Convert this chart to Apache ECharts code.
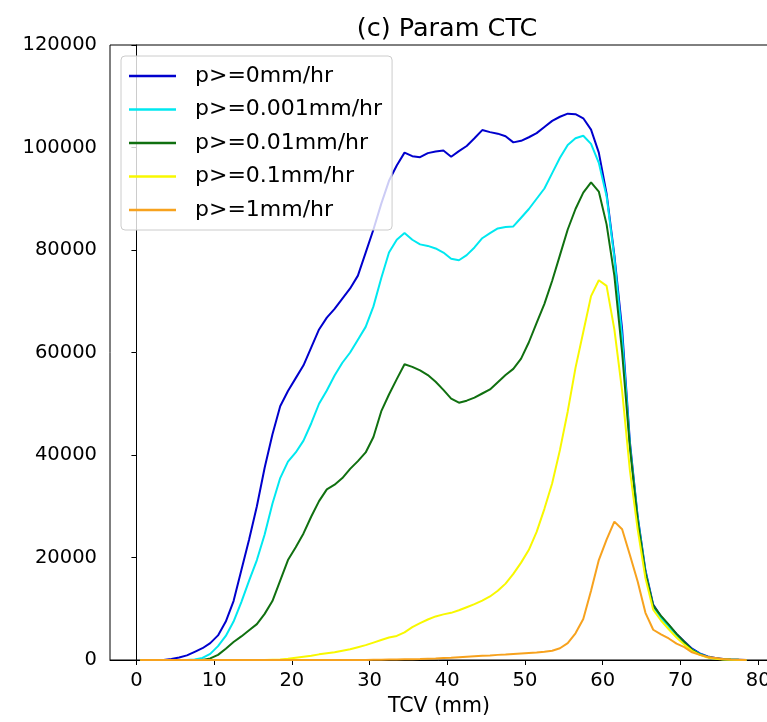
<!DOCTYPE html>
<html>
<head>
<meta charset="utf-8">
<script src="https://cdn.jsdelivr.net/npm/echarts@6/dist/echarts.min.js"></script>
<style>
html,body{margin:0;padding:0;background:#fff;}
#chart{width:767px;height:722px;}
</style>
</head>
<body>
<div id="chart"></div>
<script>
const tcv = [0.5,1.5,2.5,3.5,4.5,5.5,6.5,7.5,8.5,9.5,10.5,11.5,12.5,13.5,14.5,15.5,16.5,17.5,18.5,19.5,
  20.5,21.5,22.5,23.5,24.5,25.5,26.5,27.5,28.5,29.5,30.5,31.5,32.5,33.5,34.5,35.5,36.5,37.5,38.5,39.5,
  40.5,41.5,42.5,43.5,44.5,45.5,46.5,47.5,48.5,49.5,50.5,51.5,52.5,53.5,54.5,55.5,56.5,57.5,58.5,59.5,
  60.5,61.5,62.5,63.5,64.5,65.5,66.5,67.5,68.5,69.5,70.5,71.5,72.5,73.5,74.5,75.5,76.5,77.5,78.5];

const p0 = [0,0,0,0,200,500,900,1600,2300,3300,
  4800,7500,11500,17500,23500,30000,37500,44000,49500,52500,
  55000,57500,61000,64500,66800,68500,70500,72500,75000,79500,
  84000,89000,93500,96500,99000,98300,98100,98900,99200,99400,
  98200,99300,100300,101800,103400,103000,102700,102200,101000,101300,
  102000,102800,104000,105200,106000,106600,106500,105700,103500,99000,
  91000,79000,64500,42500,28000,17500,10800,8500,6800,5100,
  3600,2200,1300,700,400,200,100,50,0];

const p0001 = [0,0,0,0,0,0,0,100,400,1200,
  2700,4700,7500,11300,15500,19500,24500,30500,35500,38700,
  40500,42800,46200,50000,52600,55500,58000,60000,62500,65000,
  69000,74500,79500,82000,83300,82000,81100,80800,80300,79500,
  78300,78000,79000,80500,82300,83300,84200,84500,84600,86300,
  88000,90000,92000,95000,98000,100500,101800,102300,100700,97000,
  90500,78500,63000,42000,27800,17200,10500,8200,6500,4900,
  3400,2000,1200,600,300,150,80,30,0];

const p001 = [0,0,0,0,0,0,0,0,0,300,
  1000,2200,3500,4600,5800,7000,9000,11500,15500,19500,
  22000,24700,28000,31000,33300,34200,35500,37300,38800,40500,
  43500,48500,51800,54800,57700,57200,56500,55600,54300,52700,
  51000,50200,50600,51200,52000,52800,54200,55600,56800,58800,
  62000,65800,69500,74000,79000,84000,88000,91200,93200,91400,
  85000,75000,60000,41500,27300,17000,10600,8600,6900,5100,
  3500,2000,1100,600,300,150,80,30,0];

const p01 = [0,0,0,0,0,0,0,0,0,0,
  0,0,0,0,0,0,0,50,100,250,
  450,650,850,1100,1300,1500,1800,2100,2500,2900,
  3400,3900,4400,4700,5400,6400,7200,7900,8500,8900,
  9200,9700,10300,10900,11600,12400,13500,14900,16800,19000,
  21500,25000,29500,34500,41000,48500,57000,64000,71000,74100,
  73000,64500,52500,37000,25500,16000,9800,7700,6000,4400,
  3000,1800,1000,500,250,120,50,20,0];

const p1 = [0,0,0,0,0,0,0,0,0,0,
  0,0,0,0,0,0,0,0,0,0,
  0,0,0,0,0,0,0,0,0,0,
  50,60,80,100,130,160,200,250,300,380,
  450,550,650,750,850,900,1000,1050,1150,1250,
  1350,1450,1600,1800,2300,3300,5200,8000,13500,19500,
  23500,27000,25500,20500,15300,9200,5900,5000,4200,3200,
  2500,1500,1000,600,400,200,100,50,0];

const xTicks = [0,10,20,30,40,50,60,70,80];
const seriesNames = ['p>=0mm/hr','p>=0.001mm/hr','p>=0.01mm/hr','p>=0.1mm/hr','p>=1mm/hr'];
const seriesValues = [p0, p0001, p001, p01, p1];
const colors = ['#0000cd','#00e8f0','#107010','#f8f800','#f7a21e'];

const font = 'DejaVu Sans';
const chart = echarts.init(document.getElementById('chart'), null, {renderer:'canvas'});
chart.setOption({
  animation: false,
  backgroundColor: '#fff',
  title: {
    text: '(c) Param CTC',
    left: 442, top: 11, textAlign: 'center',
    textStyle: {fontFamily: font, fontSize: 25.5, fontWeight: 'normal', color: '#000'}
  },
  legend: {
    orient: 'vertical', left: 121, top: 56,
    icon: 'rect', itemWidth: 47, itemHeight: 2.5, itemGap: 11.5,
    padding: [9, 10, 9, 8],
    backgroundColor: 'rgba(255,255,255,0.8)',
    borderColor: '#cccccc', borderWidth: 1, borderRadius: 4,
    textStyle: {fontFamily: font, fontSize: 22, color: '#000', padding: [0,0,0,14]},
    data: seriesNames
  },
  grid: {left: 110, top: 45, width: 666, bottom: 62, outerBoundsMode: 'none', containLabel: false,
    show: true, borderColor: '#000', borderWidth: 1, backgroundColor: 'transparent'},
  xAxis: {
    type: 'value', min: -3.4, max: 82.3,
    name: 'TCV (mm)', nameLocation: 'middle', nameGap: 24,
    nameTextStyle: {fontFamily: font, fontSize: 20.5, color: '#000', padding: [0, 8, 0, 0]},
    axisLine: {show: true, lineStyle: {color: '#000', width: 1}},
    axisTick: {show: true, length: 5, lineStyle: {color: '#000'}, customValues: xTicks},
    axisLabel: {fontFamily: font, fontSize: 19.5, color: '#000', margin: 11, customValues: xTicks},
    splitLine: {show: false}
  },
  yAxis: {
    type: 'value', min: 0, max: 120000, interval: 20000,
    axisLine: {show: true, lineStyle: {color: '#000', width: 1}},
    axisTick: {show: true, length: 5, lineStyle: {color: '#000'}},
    axisLabel: {fontFamily: font, fontSize: 19.5, color: '#000', margin: 13, formatter: v => String(v)},
    splitLine: {show: false}
  },
  series: seriesNames.map((n, i) => ({
    name: n, type: 'line', showSymbol: false, symbol: 'none',
    data: tcv.map((x, j) => [x, seriesValues[i][j]]),
    lineStyle: {color: colors[i], width: 2},
    itemStyle: {color: colors[i]},
    clip: true
  }))
});
</script>
</body>
</html>
